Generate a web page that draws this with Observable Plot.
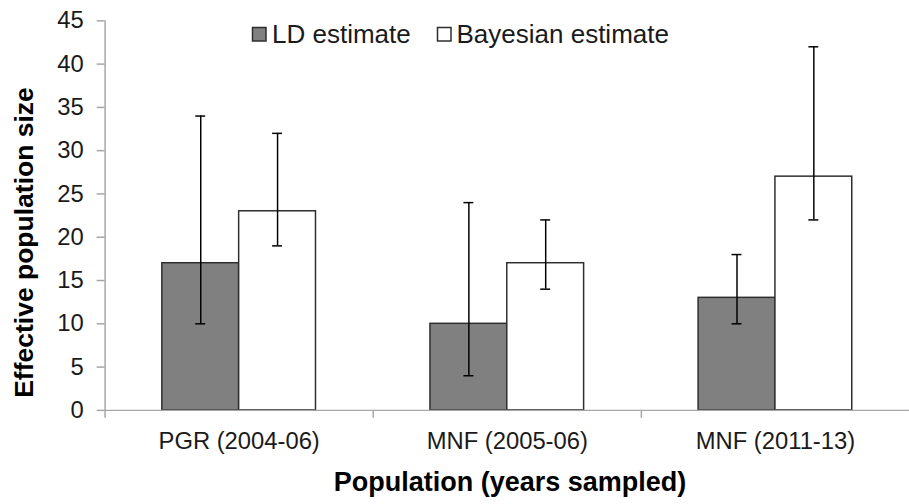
<!DOCTYPE html>
<html><head><meta charset="utf-8">
<script src="https://cdn.jsdelivr.net/npm/d3@7"></script>
<script src="https://cdn.jsdelivr.net/npm/@observablehq/plot@0.6"></script>
<style>
html,body{margin:0;padding:0;background:#fff;overflow:hidden;}
#wrap{position:relative;width:909px;height:504px;overflow:hidden;font-family:Arial,"Liberation Sans",sans-serif;}
#wrap svg.ov{position:absolute;left:0;top:0;pointer-events:none;}
</style></head><body><div id="wrap"></div>
<script>
const populations = ["PGR (2004-06)", "MNF (2005-06)", "MNF (2011-13)"];
const methods = ["LD estimate", "Bayesian estimate"];
const ldEstimate = [17, 10, 13];
const ldLower = [10, 4, 10];
const ldUpper = [34, 24, 18];
const bayesEstimate = [23, 17, 27];
const bayesLower = [19, 14, 22];
const bayesUpper = [32, 22, 42];
const yTicks = [0, 5, 10, 15, 20, 25, 30, 35, 40, 45];
const yTitle = "Effective population size";
const xTitle = "Population (years sampled)";
const methodFills = ["#808080", "#ffffff"];

const rows = populations.flatMap((p, i) => [
  {population: p, method: methods[0], value: ldEstimate[i], lo: ldLower[i], hi: ldUpper[i]},
  {population: p, method: methods[1], value: bayesEstimate[i], lo: bayesLower[i], hi: bayesUpper[i]}
]);

const W = 917, H = 504, mL = 105.5, mR = 0, mT = 20.5, mB = 90.5;
const facetW = (W - mL - mR) / populations.length;
const po = 0.745;
const step = facetW / (2 + 2 * po);
const pxPerUnit = (H - mT - mB) / 45;
const tickLen = 8;
const tickUnits = tickLen / pxPerUnit;
const capW = 10;
const axisGray = "#a6a6a6";

const chart = Plot.plot({
  width: W, height: H,
  marginLeft: mL, marginRight: mR, marginTop: mT, marginBottom: mB,
  style: {fontFamily: 'Arial, "Liberation Sans", sans-serif', fontSize: "24px", color: "#1a1a1a", background: "#fff", overflow: "visible"},
  fx: {domain: populations, padding: 0, round: false, label: null},
  x: {domain: methods, paddingInner: 0, paddingOuter: po, round: false, axis: null},
  y: {domain: [0, 45], label: null},
  color: {domain: methods, range: methodFills},
  marks: [
    Plot.barY(rows, {fx: "population", x: "method", y: "value", fill: "method", stroke: "#2e2e2e", strokeWidth: 1.5}),
    Plot.ruleX(rows, {fx: "population", x: "method", y1: "lo", y2: "hi", stroke: "#000", strokeWidth: 1.5}),
    Plot.tickY(rows, {fx: "population", x: "method", y: "lo", inset: (step - capW) / 2, stroke: "#000", strokeWidth: 1.5}),
    Plot.tickY(rows, {fx: "population", x: "method", y: "hi", inset: (step - capW) / 2, stroke: "#000", strokeWidth: 1.5}),
    Plot.ruleY([0], {stroke: axisGray, strokeWidth: 1.5}),
    Plot.ruleX(populations, {fx: d => d, x: () => methods[0], y1: 0, y2: -tickUnits, dx: -(po + 0.5) * step, stroke: axisGray, strokeWidth: 1.5}),
    Plot.ruleX([populations[0]], {fx: d => d, x: () => methods[0], y1: 0, y2: 45, dx: -(po + 0.5) * step, stroke: axisGray, strokeWidth: 1.5}),
    Plot.axisY({ticks: yTicks, tickSize: tickLen, tickPadding: 13.5, stroke: axisGray, strokeWidth: 1.5, fontSize: 24, label: null}),
    Plot.axisFx({anchor: "bottom", tickSize: 0, tickPadding: 21.5, fontSize: 24, label: null})
  ]
});

const wrap = document.getElementById("wrap");
wrap.appendChild(chart);

const ns = "http://www.w3.org/2000/svg";
const ov = document.createElementNS(ns, "svg");
ov.setAttribute("class", "ov");
ov.setAttribute("width", 909);
ov.setAttribute("height", 504);
ov.setAttribute("font-family", 'Arial, "Liberation Sans", sans-serif');
function addText(txt, attrs) {
  const t = document.createElementNS(ns, "text");
  for (const k in attrs) t.setAttribute(k, attrs[k]);
  t.textContent = txt;
  ov.appendChild(t);
  return t;
}
function addRect(attrs) {
  const r = document.createElementNS(ns, "rect");
  for (const k in attrs) r.setAttribute(k, attrs[k]);
  ov.appendChild(r);
}
addText(yTitle, {transform: "translate(33,242.5) rotate(-90)", "text-anchor": "middle", "font-weight": "bold", "font-size": 26.5, fill: "#000"});
addText(xTitle, {x: 510, y: 491, "text-anchor": "middle", "font-weight": "bold", "font-size": 27, fill: "#000"});
const legendX = [252.5, 437.5];
const legendTextX = [272, 456.5];
methods.forEach((m, i) => {
  addRect({x: legendX[i], y: 27.5, width: 13.5, height: 13.5, fill: methodFills[i], stroke: "#2e2e2e", "stroke-width": 1.5});
  addText(m, {x: legendTextX[i], y: 43, "font-size": 26, fill: "#1a1a1a"});
});
wrap.appendChild(ov);
</script></body></html>
